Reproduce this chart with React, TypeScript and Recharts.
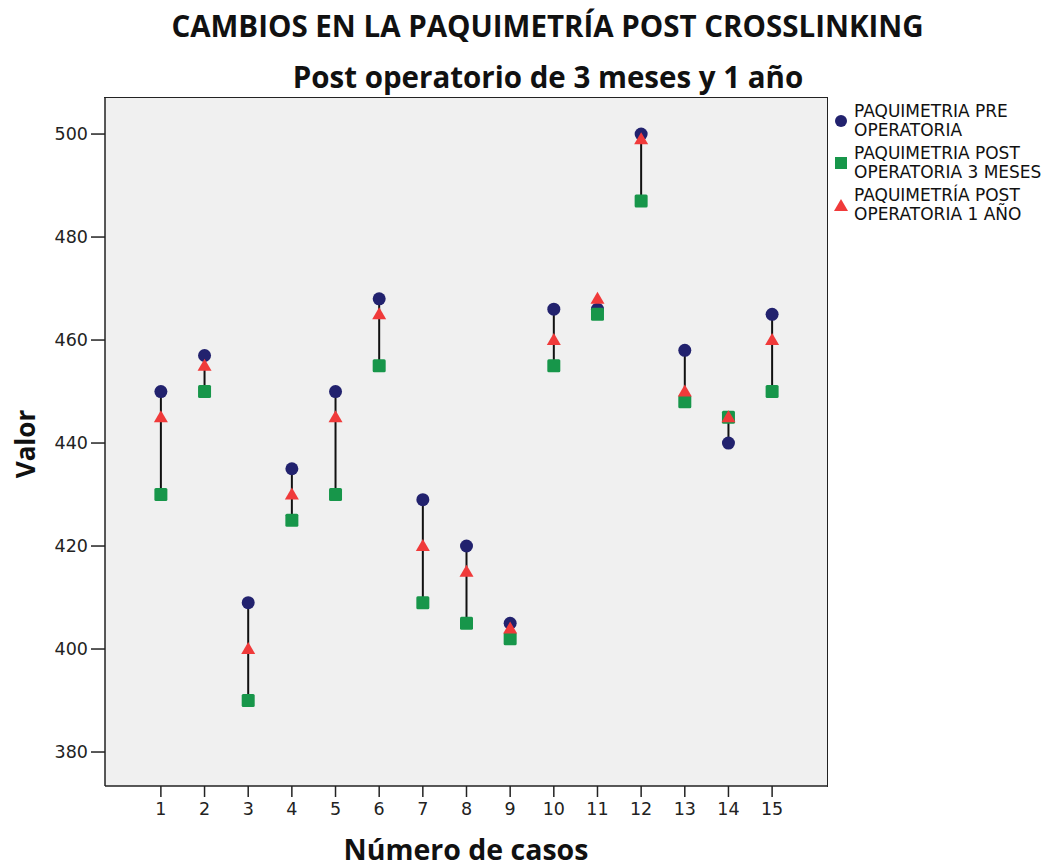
import { ComposedChart, Scatter, XAxis, YAxis, CartesianGrid, ReferenceLine } from "recharts";

const cases = [1, 2, 3, 4, 5, 6, 7, 8, 9, 10, 11, 12, 13, 14, 15];
const pre = [450, 457, 409, 435, 450, 468, 429, 420, 405, 466, 466, 500, 458, 440, 465];
const post3m = [430, 450, 390, 425, 430, 455, 409, 405, 402, 455, 465, 487, 448, 445, 450];
const post1y = [445, 455, 400, 430, 445, 465, 420, 415, 404, 460, 468, 499, 450, 445, 460];
const yTicks = [380, 400, 420, 440, 460, 480, 500];

const NAVY = "#22226e";
const GREEN = "#17964a";
const RED = "#f03a3a";

const preData = cases.map((c, i) => ({ x: c, y: pre[i] }));
const post3mData = cases.map((c, i) => ({ x: c, y: post3m[i] }));
const post1yData = cases.map((c, i) => ({ x: c, y: post1y[i] }));

const Circle = (p: any) => <circle cx={p.cx} cy={p.cy} r={6.5} fill={NAVY} />;
const Square = (p: any) => <rect x={p.cx - 6.5} y={p.cy - 6.5} width={13} height={13} rx={1.5} fill={GREEN} />;
const Triangle = (p: any) => (
  <polygon points={`${p.cx},${p.cy - 7} ${p.cx + 7},${p.cy + 5} ${p.cx - 7},${p.cy + 5}`} fill={RED} />
);

const tickStyle = { fontSize: 17.5, fill: "#222", fontFamily: "DejaVu Sans" };
const boldText = { fontFamily: "Open Sans", fontWeight: 700, color: "#111", position: "absolute" as const };

export default function App() {
  return (
    <div style={{ position: "absolute", left: 0, top: 0, width: 1060, height: 866, background: "#fff" }}>
      <ComposedChart width={1060} height={866} margin={{ top: 98, right: 232, left: 0, bottom: 0 }}>
        <CartesianGrid fill="#f0f0f0" horizontal={false} vertical={false} />
        <XAxis
          type="number"
          dataKey="x"
          domain={[-0.28, 16.28]}
          allowDataOverflow
          ticks={cases}
          height={80}
          tickSize={11}
          tickMargin={6}
          tick={tickStyle}
          stroke="#222"
          strokeWidth={1.5}
        />
        <YAxis
          type="number"
          dataKey="y"
          domain={[373.4, 507]}
          allowDataOverflow
          ticks={yTicks}
          width={105}
          tickSize={14}
          tickMargin={3}
          tick={tickStyle}
          stroke="#222"
          strokeWidth={1.5}
        />
        <Scatter data={preData} fill={NAVY} shape={Circle} isAnimationActive={false} />
        <Scatter data={post3mData} fill={GREEN} shape={Square} isAnimationActive={false} />
        <Scatter data={post1yData} fill={RED} shape={Triangle} isAnimationActive={false} />
        {cases.map((c, i) => {
          const lo = Math.min(pre[i], post3m[i], post1y[i]);
          const hi = Math.max(pre[i], post3m[i], post1y[i]);
          return (
            <ReferenceLine
              key={c}
              segment={[{ x: c, y: lo }, { x: c, y: hi }]}
              stroke="#111"
              strokeWidth={2}
            />
          );
        })}
      </ComposedChart>

      {/* top and right edges of the plot frame */}
      <div
        style={{
          position: "absolute",
          left: 104,
          top: 97,
          width: 723,
          height: 689,
          borderTop: "1.5px solid #222",
          borderRight: "1.5px solid #222",
          pointerEvents: "none",
        }}
      />

      <div style={{ ...boldText, left: 0, width: 1095, top: 5, textAlign: "center", fontSize: 29.5 }}>
        CAMBIOS EN LA PAQUIMETRÍA POST CROSSLINKING
      </div>
      <div style={{ ...boldText, left: 0, width: 1096, top: 56, textAlign: "center", fontSize: 29.5 }}>
        Post operatorio de 3 meses y 1 año
      </div>
      <div
        style={{
          ...boldText,
          left: 25,
          top: 444,
          fontSize: 26,
          transform: "translate(-50%, -50%) rotate(-90deg)",
          whiteSpace: "nowrap",
        }}
      >
        Valor
      </div>
      <div style={{ ...boldText, left: 266, width: 400, top: 830, textAlign: "center", fontSize: 28.5 }}>
        Número de casos
      </div>

      <div style={{ position: "absolute", left: 833, top: 102, fontFamily: "DejaVu Sans", fontSize: 17, lineHeight: "19px", color: "#111" }}>
        {[
          { color: NAVY, shape: "circle", lines: ["PAQUIMETRIA PRE", "OPERATORIA"] },
          { color: GREEN, shape: "square", lines: ["PAQUIMETRIA POST", "OPERATORIA 3 MESES"] },
          { color: RED, shape: "triangle", lines: ["PAQUIMETRÍA POST", "OPERATORIA 1 AÑO"] },
        ].map((item) => (
          <div key={item.lines[0]} style={{ display: "flex", alignItems: "center", marginBottom: 4 }}>
            <svg width={21} height={16} style={{ flex: "none" }}>
              {item.shape === "circle" && <circle cx={8} cy={8} r={6} fill={item.color} />}
              {item.shape === "square" && <rect x={2} y={2} width={12} height={12} fill={item.color} />}
              {item.shape === "triangle" && <polygon points="8,2 15,14 1,14" fill={item.color} />}
            </svg>
            <div>
              {item.lines.map((l) => (
                <div key={l}>{l}</div>
              ))}
            </div>
          </div>
        ))}
      </div>
    </div>
  );
}
